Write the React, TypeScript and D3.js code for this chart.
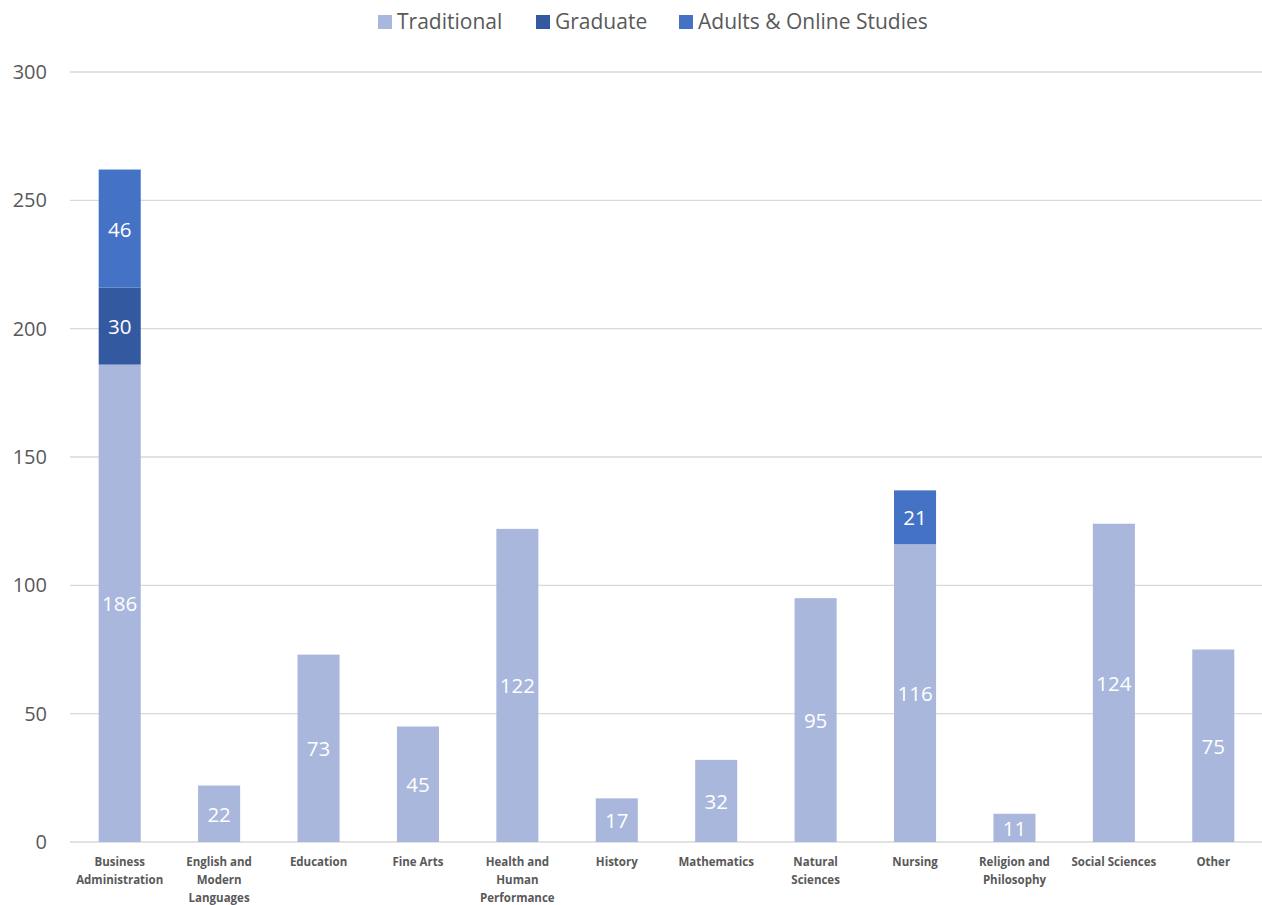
import React from "react";
import * as d3 from "d3";

const categories = [
  ["Business", "Administration"],
  ["English and", "Modern", "Languages"],
  ["Education"],
  ["Fine Arts"],
  ["Health and", "Human", "Performance"],
  ["History"],
  ["Mathematics"],
  ["Natural", "Sciences"],
  ["Nursing"],
  ["Religion and", "Philosophy"],
  ["Social Sciences"],
  ["Other"],
];
const traditional = [186, 22, 73, 45, 122, 17, 32, 95, 116, 11, 124, 75];
const graduate = [30, 0, 0, 0, 0, 0, 0, 0, 0, 0, 0, 0];
const adultsOnline = [46, 0, 0, 0, 0, 0, 0, 0, 21, 0, 0, 0];
const seriesNames = ["Traditional", "Graduate", "Adults & Online Studies"];
const yTicks = [0, 50, 100, 150, 200, 250, 300];

const colors = ["#A9B7DC", "#335AA1", "#4472C4"];
const FONT = "'Open Sans', sans-serif";

export default function App() {
  const W = 1262;
  const H = 905;
  const x0 = 70, x1 = 1263, yTop = 72, yBot = 842;
  const keys = categories.map((c) => c.join(" "));
  const x = d3.scaleBand<string>().domain(keys).range([x0, x1]).paddingInner(0.577).paddingOuter(0.2885);
  const y = d3.scaleLinear().domain([0, 300]).range([yBot, yTop]);
  const rows = keys.map((k, i) => ({ key: k, s0: traditional[i], s1: graduate[i], s2: adultsOnline[i] }));
  const stack = d3.stack<any>().keys(["s0", "s1", "s2"])(rows);

  const legendItems = [
    { name: seriesNames[0], sq: 378 },
    { name: seriesNames[1], sq: 536 },
    { name: seriesNames[2], sq: 679 },
  ];

  return (
    <svg
      width={W}
      height={H}
      style={{ display: "block", position: "absolute", left: 0, top: 0 }}
      fontFamily={FONT}
    >
      <rect width={W} height={H} fill="#fff" />
      {yTicks.map((t) => (
        <g key={t}>
          <line x1={x0} x2={W} y1={y(t)} y2={y(t)} stroke="#D9D9D9" strokeWidth={1.3} />
          <text x={47} y={y(t)} dy="0.35em" textAnchor="end" fontSize={20} fill="#595959">
            {t}
          </text>
        </g>
      ))}
      {stack.map((layer, si) =>
        layer.map((d, i) => {
          const v = d[1] - d[0];
          if (v <= 0) return null;
          const bx = x(keys[i])!;
          const bw = x.bandwidth();
          return (
            <g key={si + "-" + i}>
              <rect x={bx} y={y(d[1])} width={bw} height={y(d[0]) - y(d[1])} fill={colors[si]} />
              <text
                x={bx + bw / 2}
                y={(y(d[0]) + y(d[1])) / 2 + 0.8}
                dy="0.35em"
                textAnchor="middle"
                fontSize={20.5}
                fill="#fff"
              >
                {v}
              </text>
            </g>
          );
        })
      )}
      {categories.map((lines, i) => (
        <text
          key={i}
          x={x(keys[i])! + x.bandwidth() / 2}
          y={866}
          textAnchor="middle"
          fontSize={11.5}
          fontWeight="bold"
          fill="#595959"
        >
          {lines.map((l, j) => (
            <tspan key={j} x={x(keys[i])! + x.bandwidth() / 2} dy={j === 0 ? 0 : 18}>
              {l}
            </tspan>
          ))}
        </text>
      ))}
      {legendItems.map((it, i) => (
        <g key={i}>
          <rect x={it.sq} y={15} width={14} height={14} fill={colors[i]} />
          <text x={it.sq + 19} y={29} fontSize={21} fill="#595959">
            {it.name}
          </text>
        </g>
      ))}
    </svg>
  );
}
